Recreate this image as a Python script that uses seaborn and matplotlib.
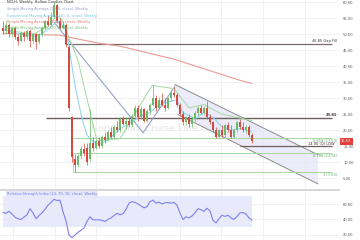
import matplotlib
matplotlib.use("Agg")
import matplotlib.pyplot as plt
import seaborn as sns
import numpy as np

# ---------------- data ----------------
opens = [52, 51, 53, 50, 52, 49, 48, 50.5, 49, 51, 48, 50, 47.5, 50, 52, 54, 53, 55.5, 59, 54,
         52, 53, 46, 24, 11, 9, 12, 14, 14.5, 11, 16, 14.5, 16.5, 15, 18, 17, 19.5, 18, 21, 20,
         23.5, 22, 23, 21.5, 24.5, 27, 24, 26.5, 23, 26, 28, 30, 27, 29.5, 28, 27, 30, 31.5, 31, 28,
         25, 22.5, 24, 22, 23.5, 25.5, 27, 25.5, 27, 24, 22.5, 20, 18, 20, 18.5, 21.5, 20, 18, 20, 22.5,
         21, 20, 21, 18.5]
highs = [54, 54.5, 53.5, 52.5, 52.5, 50, 51, 51, 51.5, 51.5, 50.5, 50.5, 50.5, 52.5, 54.5, 56, 57, 60, 59.5, 55,
         54, 53.5, 46.5, 24.5, 12.5, 13, 15, 16, 16, 26.7, 18, 17, 18, 18.5, 19.5, 20, 21, 21.5, 23, 24,
         24.5, 24, 24, 25, 28, 28, 27.5, 27, 26.5, 28.5, 34, 31, 30.5, 31.5, 30, 30.5, 32.5, 33.5, 31.5, 28.5,
         26, 24.5, 25, 24.5, 26, 27.5, 28, 27.5, 29, 25, 23, 21, 20.5, 21.5, 22, 22.5, 21.5, 20.5, 23, 23.5,
         22.5, 21.5, 21.5, 19]
lows = [50, 50, 49, 49, 48.5, 46.5, 47.5, 48, 48.5, 46, 47, 45.5, 47, 49.5, 51.5, 52.5, 52.5, 55, 53.5, 51.5,
        51.5, 46, 26, 10, 7.03, 8.5, 11, 12, 9, 10.5, 13.5, 14, 14.5, 14.5, 16, 16.5, 17.5, 17.5, 19.5, 19.5,
        21.5, 20.5, 21, 21, 23.5, 23, 23.5, 22.5, 22.5, 25, 27.5, 26, 26.5, 27.5, 26, 26.5, 29, 30.5, 27.5, 24.5,
        21.5, 21.5, 21, 21, 23, 24.5, 25, 25, 23.5, 22, 19.5, 17.5, 17.5, 18, 18, 19.5, 17.5, 17.5, 19.5, 20.5,
        19.5, 19, 18, 16]
closes = [51, 53, 50, 52, 49, 48, 50.5, 49, 51, 48, 50, 47.5, 50, 52, 54, 53, 55.5, 59, 54, 52,
          53, 47, 27, 11.5, 9, 12, 14, 13, 10, 16, 14.5, 16.5, 15, 18, 17, 19.5, 18, 21, 20, 23.5,
          22, 23, 21.5, 24.5, 27, 24, 26.5, 23, 26, 28, 30, 27, 29.5, 28, 27, 30, 31.5, 31, 28, 25,
          22.5, 24, 22, 23.5, 25.5, 27, 25.5, 27, 24, 22.5, 20, 18, 20, 18.5, 21.5, 20, 18, 20, 22.5, 21,
          20, 21, 18.5, 16.53]

rsi = [49, 48, 50.5, 47, 43, 41, 40, 43, 46, 54, 48.5, 41, 45, 48.5, 53, 58.5, 62, 66, 64.5, 65,
       50, 38, 20, 16.5, 20, 23.5, 26, 29, 37.5, 43.5, 39.5, 39.5, 39.5, 39, 37.5, 40, 42, 45, 48, 46,
       47.5, 53, 61, 63, 62, 60, 57.5, 55, 56.5, 63, 65, 61, 62.5, 60, 61.5, 62, 61, 62, 58.5, 48,
       40, 43.5, 42, 44.5, 48.5, 54, 52.5, 50.5, 54.5, 51, 39, 35.5, 41, 45.5, 44, 45.5, 42, 40, 44, 48.5,
       49, 47, 42, 39]

sma_long_x = [0, 19, 25, 32, 39, 57, 79, 83]
sma_long_y = [50.3, 49.7, 48.5, 47.2, 46.3, 42.2, 35.6, 34.6]

ema_x = [0, 4, 8, 12, 15, 18, 20, 21, 22, 23, 24, 25, 26, 27, 28, 30, 32, 35, 39, 42, 46, 49, 52, 56, 58, 60, 64, 67, 70, 73, 76, 79, 83]
ema_y = [51.5, 50.5, 49.5, 49.5, 51.5, 54, 53, 51, 46, 40, 34, 29.5, 25, 21.5, 18.5, 16.5, 15.5, 17, 20.5, 22, 24.5, 25.5, 28, 29, 29.5, 25.5, 23.5, 25.5, 24, 21, 20, 20.5, 19.5]

green_x = [0, 10, 15, 18, 19.7, 25, 31.3, 39, 49.7, 57, 62, 67, 73, 83]
green_y = [51.5, 50, 52.5, 56, 54.5, 41.8, 16.7, 17.3, 34, 33, 27, 28, 25, 23]

trend_x = [17, 46.7, 57.3]
trend_y = [53.8, 19.2, 33.7]

chan_x = [57.3, 105, 105, 58.3]
chan_y = [34.3, 12.3, 3.2, 24.9]

fib_levels = [17.53, 12.91, 7.03]
fib_labels = ["0.618 (17.53)", "0.786 (12.91)", "1 (7.03)"]

gap_fill = 46.85
resist = 23.81
q_low = 14.90
last_price = 16.53

yticks = [5, 10, 15, 20, 25, 30, 35, 40, 45, 50, 55, 60]
rsi_ticks = [20, 40, 60]
vgrid = [3.3, 17.2, 31.1, 45, 58.9, 72.8, 86.7, 100.6]

legend_texts = ["Simple Moving Average (10, 0, close), Weekly",
                "Exponential Moving Average (20, 0, close), Weekly",
                "Simple Moving Average (100, 0, close), Weekly",
                "Simple Moving Average (20, 0, close), Weekly"]

# ---------------- style ----------------
sns.set_theme(style="white")
plt.rcParams['font.family'] = ['DejaVu Sans']

RED = '#d44a3e'
GREEN = '#6dbb68'
GRID = '#efefef'
FS = 2.6

fig = plt.figure(figsize=(3.6, 2.4), dpi=100)
fig.patch.set_facecolor('white')
ax = fig.add_axes([0, 1 - 190 / 240, 339 / 360, 190 / 240])
axr = fig.add_axes([0, 0, 339 / 360, 48 / 240])

for a in (ax, axr):
    a.set_facecolor('white')
    a.set_xlim(-1, 112)
    for s in a.spines.values():
        s.set_visible(False)
    a.set_xticks(vgrid)
    a.set_xticklabels([])
    a.grid(True, color=GRID, lw=0.6)
    a.set_axisbelow(True)
    a.yaxis.tick_right()
    a.tick_params(axis='both', length=0, pad=3, labelsize=FS, labelcolor='#555555')

ax.spines['bottom'].set_visible(True)
ax.spines['bottom'].set_color('#d0d0d0')
ax.spines['bottom'].set_linewidth(1.2)

ax.set_ylim(1.29, 60.72)
ax.set_yticks(yticks)
ax.set_yticklabels([f"{v:.2f}" for v in yticks])

# watermark
ax.text(57.5, 20.4, "Norwegian Cruise Line Holdings Ltd", fontsize=6.8, color='#e4e4e4',
        ha='center', va='center', zorder=0.5)

# channel
ax.fill(chan_x, chan_y, color='#e6e6f8', alpha=0.8, lw=0, zorder=1)
sns.lineplot(x=chan_x[:2], y=chan_y[:2], ax=ax, color='#8c8c8c', lw=0.7, zorder=2)
sns.lineplot(x=[chan_x[3], chan_x[2]], y=[chan_y[3], chan_y[2]], ax=ax, color='#8c8c8c', lw=0.7, zorder=2)

# fib levels
for lv, lb in zip(fib_levels, fib_labels):
    ax.hlines(lv, 23.3, 109.5, color='#a6d8a0', lw=0.7, zorder=2)
    ax.text(111.3, lv - 0.3, lb, fontsize=FS, color='#5aa65a', ha='right', va='top', zorder=6)
ax.vlines(23.3, fib_levels[2], fib_levels[1], color='#a6d8a0', lw=0.7, zorder=2)

# horizontal levels
ax.hlines(gap_fill, 20.7, 109.7, color='#7a6c6c', lw=0.9, zorder=2)
ax.text(111.3, gap_fill + 0.4, "46.85 Gap Fill", fontsize=FS, color='#333333', ha='right', va='bottom', zorder=6)
ax.hlines(resist, 14.3, 109.7, color='#6e5f60', lw=1.0, zorder=2)
ax.text(111.3, resist + 0.4, "23.81", fontsize=FS, color='#333333', fontweight='bold', ha='right', va='bottom', zorder=6)
ax.hlines(q_low, 79, 109.7, color='#6e5f60', lw=0.9, zorder=2)
ax.text(110.5, q_low + 0.2, "14.90 (Q) LOW", fontsize=FS, color='#333333', ha='right', va='bottom', zorder=6)

# moving averages and drawings
sns.lineplot(x=sma_long_x, y=sma_long_y, ax=ax, color='#ec9a90', lw=0.8, zorder=3)
sns.lineplot(x=trend_x, y=trend_y, ax=ax, color='#97a3c9', lw=0.8, zorder=3)
sns.lineplot(x=green_x, y=green_y, ax=ax, color='#a3dba0', lw=0.7, zorder=3)
sns.lineplot(x=ema_x, y=ema_y, ax=ax, color='#95d6f2', lw=0.8, zorder=3)

# candles
idx = np.arange(len(closes))
o = np.array(opens, float)
c = np.array(closes, float)
up = c >= o
cols = np.where(up, GREEN, RED)
ax.vlines(idx, lows, highs, colors=cols, lw=0.5, zorder=4)
ax.bar(idx, np.maximum(np.abs(c - o), 0.25), bottom=np.minimum(o, c), width=0.62,
       color=cols, lw=0, zorder=5)

# last price tag
ax.annotate(f"{last_price:.2f}", xy=(1.006, last_price), xycoords=('axes fraction', 'data'),
            fontsize=FS, color='white', ha='left', va='center', annotation_clip=False, zorder=10,
            bbox=dict(boxstyle='square,pad=0.35', fc='#e0413a', ec='none'))

# title and legend
fig.text(7 / 360, 1 - 2.5 / 240, "NCLH, Weekly, Hollow Candles Chart", fontsize=FS, color='#333333',
         ha='left', va='center')
leg_cols = ['#8e9bc4', '#6cc3e6', '#e2786c', '#6fbf6b']
leg_y = [9, 15.5, 22.5, 28.5]
for t, col, py in zip(legend_texts, leg_cols, leg_y):
    fig.text(7 / 360, 1 - py / 240, t, fontsize=2.5, color=col, ha='left', va='center')

# ---------------- RSI ----------------
axr.set_ylim(13.5, 75.5)
axr.set_yticks(rsi_ticks)
axr.set_yticklabels([f"{v:.2f}" for v in rsi_ticks])
axr.fill_between(idx, 30, 70, color='#e8e9fb', lw=0, zorder=1)
sns.lineplot(x=idx, y=rsi, ax=axr, color='#7f80ee', lw=0.8, zorder=3)
axr.set_xlabel("")
axr.set_ylabel("")
ax.set_xlabel("")
ax.set_ylabel("")
fig.text(7 / 360, 1 - 194.5 / 240, "Relative Strength Index (14, 70, 30, close), Weekly",
         fontsize=2.5, color='#6e7be0', ha='left', va='center',
         bbox=dict(boxstyle='square,pad=0.3', fc='#e6e8fb', ec='none'))

fig.savefig("out.png", dpi=100)
